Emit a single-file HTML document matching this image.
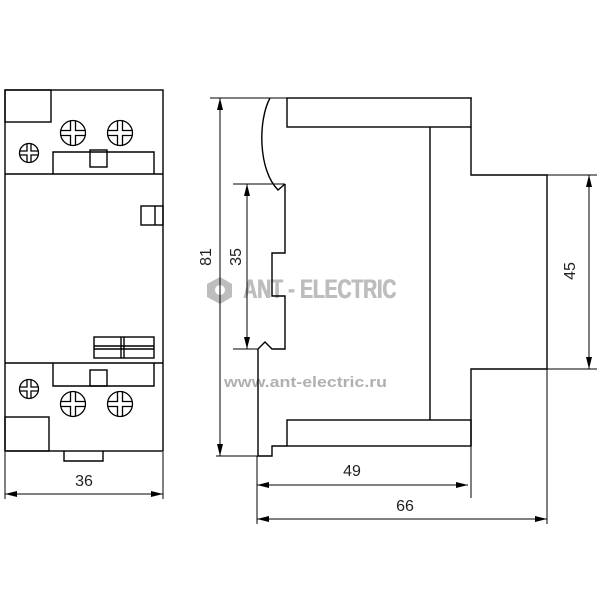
<!DOCTYPE html>
<html><head><style>html,body{margin:0;padding:0;background:#fff}svg{display:block}</style></head>
<body>
<svg width="600" height="600" viewBox="0 0 600 600" xmlns="http://www.w3.org/2000/svg">
<defs>
<marker id="a" viewBox="0 0 12 6" refX="12" refY="3" markerWidth="12" markerHeight="6" orient="auto-start-reverse" markerUnits="userSpaceOnUse"><path d="M0,0L12,3L0,6z" fill="#000"/></marker>
<g id="scb"><circle r="12.5" fill="#fff" stroke="#000" stroke-width="1.3"/><path d="M-2.5,-12V-2.5H-12M2.5,-12V-2.5H12M-2.5,12V2.5H-12M2.5,12V2.5H12" fill="none" stroke="#000" stroke-width="1.3"/></g>
<g id="scs"><circle r="9.5" fill="#fff" stroke="#000" stroke-width="1.3"/><path d="M-2,-9V-2H-9M2,-9V-2H9M-2,9V2H-9M2,9V2H9" fill="none" stroke="#000" stroke-width="1.3"/></g>
</defs>
<!-- watermark -->
<g fill="#bdbdbd">
<polygon points="220,277 232,284 232,297 220,304 207,297 207,284"/>
<circle cx="220" cy="290" r="5" fill="#fff"/>
<text x="243" y="298" font-family="Liberation Sans Narrow, Liberation Sans, sans-serif" font-weight="bold" font-size="27" textLength="153" lengthAdjust="spacingAndGlyphs">ANT - ELECTRIC</text>
<text x="243.8" y="298" font-family="Liberation Sans Narrow, Liberation Sans, sans-serif" font-weight="bold" font-size="27" textLength="153" lengthAdjust="spacingAndGlyphs">ANT - ELECTRIC</text>
<text x="224" y="387" font-family="Liberation Sans, sans-serif" font-weight="bold" font-size="15" fill="#b0b0b0" textLength="163" lengthAdjust="spacingAndGlyphs">www.ant-electric.ru</text>
</g>
<g fill="none" stroke="#000" stroke-width="1.4">
<rect x="5" y="90" width="158" height="361"/>
<rect x="5" y="90" width="46" height="32"/>
<line x1="5" y1="174" x2="163" y2="174"/>
<path d="M53,174V152H154V174"/>
<rect x="90" y="150" width="17" height="17"/>
<rect x="141" y="206" width="22" height="19"/><line x1="155" y1="206" x2="155" y2="225"/>
<line x1="5" y1="363" x2="163" y2="363"/>
<path d="M53,363V386H154V363"/>
<rect x="90" y="370" width="17" height="16"/>
<rect x="94" y="337" width="60" height="21"/>
<line x1="94" y1="346" x2="154" y2="346"/><line x1="94" y1="349" x2="154" y2="349"/>
<line x1="121" y1="337" x2="121" y2="358"/><line x1="124" y1="337" x2="124" y2="358"/>
<rect x="5" y="417" width="44" height="34"/>
<path d="M64,451V461H103V451"/>
</g>
<use href="#scs" x="29" y="153"/><use href="#scb" x="73" y="133"/><use href="#scb" x="120" y="133"/>
<use href="#scs" x="29" y="389"/><use href="#scb" x="73" y="404"/><use href="#scb" x="120" y="404"/>
<g stroke="#000" stroke-width="1" fill="none">
<line x1="5" y1="452" x2="5" y2="499"/><line x1="163" y1="452" x2="163" y2="499"/>
<line x1="5" y1="494" x2="163" y2="494" marker-start="url(#a)" marker-end="url(#a)"/>
</g>
<g fill="none" stroke="#000" stroke-width="1.4">
<line x1="210" y1="98" x2="472" y2="98" stroke-width="1"/>
<rect x="287" y="98" width="184" height="29"/>
<line x1="430" y1="127" x2="430" y2="420"/>
<path d="M471,127V175H547V369H471V446"/>
<rect x="287" y="420" width="184" height="26"/>
<path d="M270,98C258,120 258,170 278,190L285,184"/>
<path d="M285,184V253H272V296H285V349H272L265,342L258,349V456H272V446H287"/>
</g>
<g stroke="#000" stroke-width="1" fill="none">
<line x1="216" y1="456" x2="272" y2="456"/>
<line x1="220" y1="98" x2="220" y2="456" marker-start="url(#a)" marker-end="url(#a)"/>
<line x1="233" y1="184" x2="285" y2="184"/><line x1="233" y1="349" x2="258" y2="349"/>
<line x1="247" y1="184" x2="247" y2="349" marker-start="url(#a)" marker-end="url(#a)"/>
<line x1="547" y1="175" x2="597" y2="175"/><line x1="471" y1="369" x2="597" y2="369"/>
<line x1="589" y1="175" x2="589" y2="369" marker-start="url(#a)" marker-end="url(#a)"/>
<line x1="257" y1="456" x2="257" y2="524"/><line x1="471" y1="446" x2="471" y2="498"/><line x1="547" y1="369" x2="547" y2="524"/>
<line x1="257" y1="485" x2="468" y2="485" marker-start="url(#a)" marker-end="url(#a)"/>
<line x1="257" y1="519" x2="547" y2="519" marker-start="url(#a)" marker-end="url(#a)"/>
</g>
<g font-family="Liberation Sans, sans-serif" font-size="16" fill="#222" text-anchor="middle">
<text x="84" y="486">36</text>
<text x="352" y="476">49</text>
<text x="405" y="511">66</text>
<text transform="translate(211,257) rotate(-90)">81</text>
<text transform="translate(241,257) rotate(-90)">35</text>
<text transform="translate(575,271) rotate(-90)">45</text>
</g>
</svg>
</body></html>
